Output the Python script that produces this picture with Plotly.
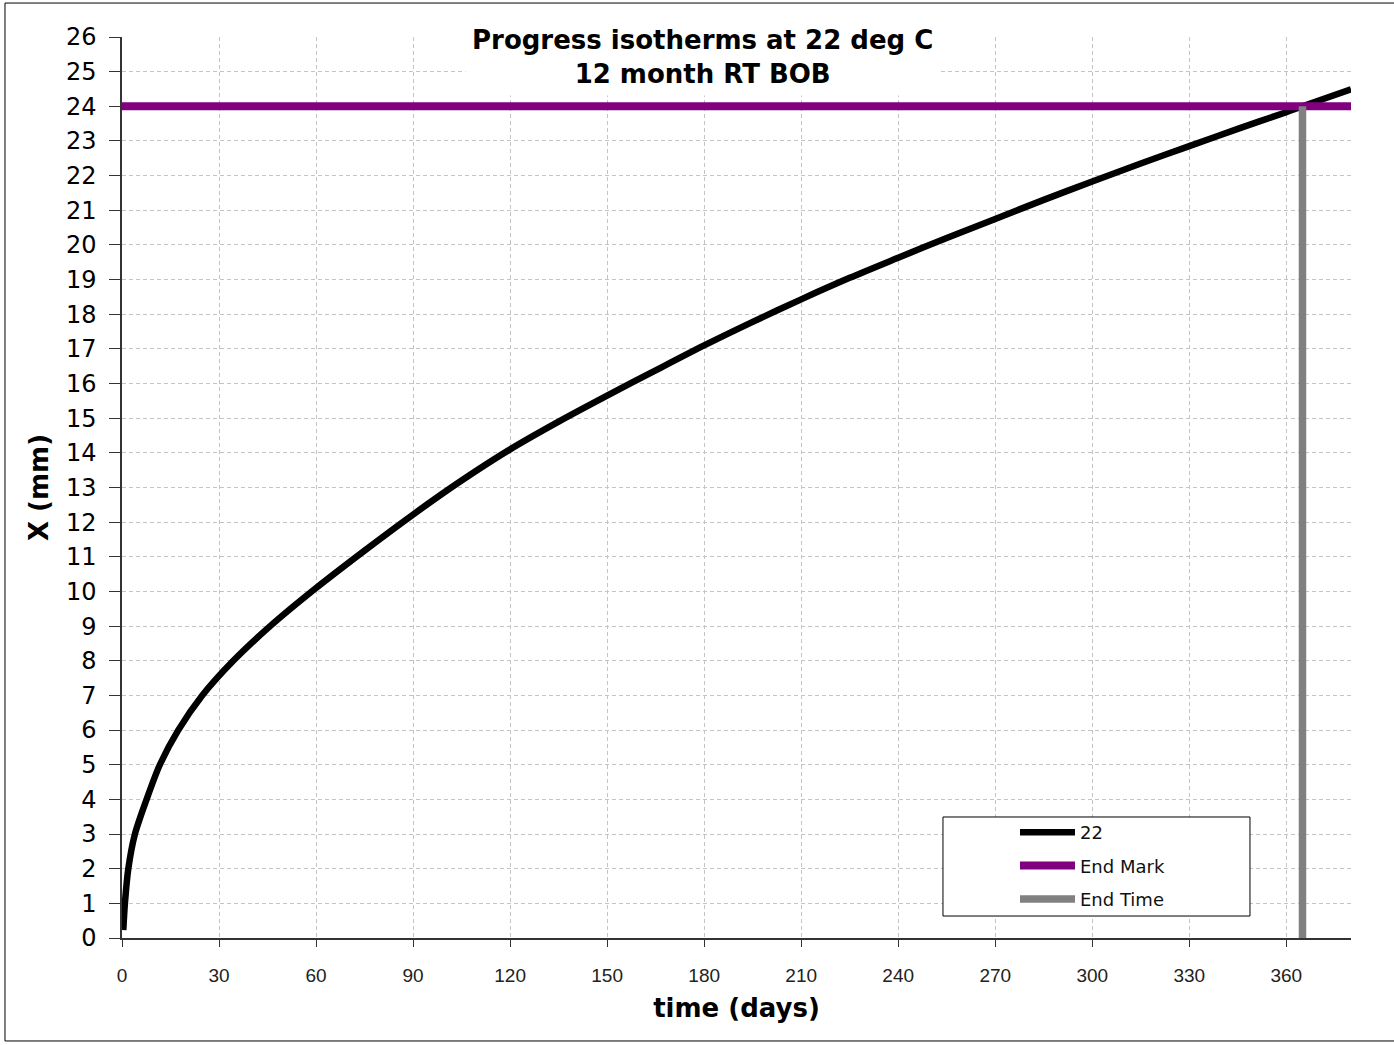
import plotly.graph_objects as go

# Data
days = [0.4, 0.9, 1.95, 4.0, 7.6, 11.7, 17.4, 24.8, 34.4, 45.8, 60, 75, 90, 105,
        120, 135, 150, 165, 180, 195, 210, 225, 240, 255, 270, 285, 300, 315,
        330, 345, 360, 365, 380]
x_mm = [0.23, 1.0, 2.0, 3.0, 4.0, 5.0, 6.0, 7.0, 8.0, 9.0, 10.1, 11.18, 12.22, 13.2,
        14.1, 14.9, 15.65, 16.38, 17.1, 17.78, 18.43, 19.05, 19.63, 20.2, 20.75,
        21.3, 21.83, 22.35, 22.85, 23.35, 23.83, 24.0, 24.49]

end_mark_x = [0, 380]
end_mark_y = [24, 24]
end_time_x = [365, 365]
end_time_y = [0, 24]

x_ticks = list(range(0, 361, 30))
y_ticks = list(range(0, 27, 1))

fig = go.Figure()
fig.add_trace(go.Scatter(x=days, y=x_mm, mode="lines", name="22", legendgroup="a",
                         line=dict(color="black", width=6.5, shape="spline",
                                   smoothing=0.8)))
fig.add_trace(go.Scatter(x=end_mark_x, y=end_mark_y, mode="lines", name="End Mark",
                         legendgroup="b", line=dict(color="#800080", width=8)))
fig.add_trace(go.Scatter(x=end_time_x, y=end_time_y, mode="lines", name="End Time",
                         legendgroup="c", line=dict(color="#808080", width=7.5)))

grid_dash = "4px,3px"

fig.update_layout(
    width=1394, height=1045,
    margin=dict(l=122, r=43, t=37, b=107),
    paper_bgcolor="white", plot_bgcolor="white",
    font=dict(family="Liberation Sans, Arial, sans-serif", color="black"),
    showlegend=True,
    legend=dict(x=0.7266, y=0.1376, xanchor="left", yanchor="top",
                bgcolor="rgba(0,0,0,0)", borderwidth=0,
                font=dict(size=18, color="#111", family="DejaVu Sans"),
                itemwidth=55, tracegroupgap=7),
    xaxis=dict(range=[0, 380], tickvals=x_ticks, ticks="outside", ticklen=7,
               tickcolor="#333", showline=True, linecolor="#333", linewidth=1.5,
               showgrid=True, gridcolor="#c4c4c4", griddash=grid_dash, gridwidth=1,
               zeroline=False, tickfont=dict(size=19, color="#222"),
               ticklabelstandoff=12,
               title=dict(text="<b>time (days)</b>",
                          font=dict(size=26, family="DejaVu Sans"), standoff=14)),
    yaxis=dict(range=[0, 26], tickvals=y_ticks, ticks="outside", ticklen=11,
               tickcolor="#333", showline=True, linecolor="#333", linewidth=1.5,
               showgrid=True, gridcolor="#c4c4c4", griddash=grid_dash, gridwidth=1,
               zeroline=False, tickfont=dict(size=24, color="black", family="DejaVu Sans"),
               ticklabelstandoff=8,
               title=dict(text="<b>X (mm)</b>",
                          font=dict(size=26, family="DejaVu Sans"), standoff=10)),
)

fig.add_annotation(x=0.4727, y=1.0215, xref="paper", yref="paper",
                   xanchor="center", yanchor="top", showarrow=False,
                   text="<b>Progress isotherms at 22 deg C<br>12 month RT BOB</b>",
                   font=dict(size=26, color="black", family="DejaVu Sans"),
                   bgcolor="white", borderpad=6)

# legend frame
fig.add_shape(type="rect", xref="paper", yref="paper",
              x0=0.668, x1=0.9178, y0=0.0244, y1=0.1343,
              line=dict(color="black", width=1), fillcolor="white", layer="above")

# outer chart border
fig.add_shape(type="rect", xref="paper", yref="paper",
              x0=-0.0952, x1=1.0537, y0=-0.1143, y1=1.0377,
              line=dict(color="black", width=1), fillcolor="rgba(0,0,0,0)",
              layer="above")

fig.write_html("out.html", config={"displayModeBar": False},
               post_script="document.body.style.margin='0';"
                           "document.body.style.overflow='hidden';")
